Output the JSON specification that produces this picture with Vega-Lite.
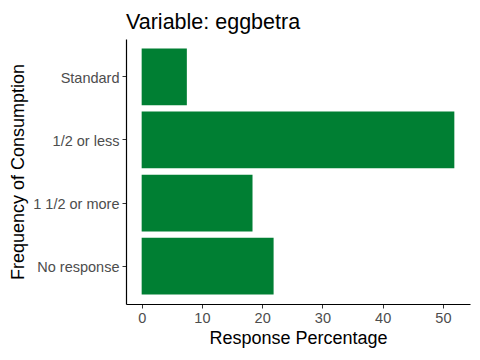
{
  "$schema": "https://vega.github.io/schema/vega-lite/v6.json",
  "autosize": "none",
  "width": 344,
  "height": 265,
  "padding": {"left": 126, "top": 39, "right": 10, "bottom": 56},
  "background": "white",
  "title": {
    "text": "Variable: eggbetra",
    "anchor": "start",
    "frame": "group",
    "font": "Liberation Sans",
    "fontSize": 21.5,
    "fontWeight": "normal",
    "color": "black",
    "baseline": "alphabetic",
    "offset": -11
  },
  "data": {
    "values": [
      {"category": "Standard", "pct": 7.5},
      {"category": "1/2 or less", "pct": 51.9},
      {"category": "1 1/2 or more", "pct": 18.4},
      {"category": "No response", "pct": 21.9}
    ]
  },
  "mark": {"type": "bar", "color": "#007f33"},
  "encoding": {
    "y": {
      "field": "category",
      "type": "nominal",
      "sort": null,
      "scale": {"paddingInner": 0.1, "paddingOuter": 0.15},
      "axis": {
        "title": "Frequency of Consumption",
        "titleFont": "Liberation Sans",
        "titleFontSize": 18,
        "titleFontWeight": "normal",
        "titleColor": "black",
        "titlePadding": 5,
        "labelFont": "Liberation Sans",
        "labelFontSize": 14.5,
        "labelColor": "#4d4d4d",
        "labelPadding": 3,
        "labelBaseline": "middle",
        "labelOffset": 2,
        "tickColor": "#333333",
        "tickSize": 4,
        "domainColor": "black",
        "domainWidth": 1.2,
        "grid": false
      }
    },
    "x": {
      "field": "pct",
      "type": "quantitative",
      "scale": {"domain": [-2.6, 54.5], "nice": false, "zero": false},
      "axis": {
        "title": "Response Percentage",
        "values": [0, 10, 20, 30, 40, 50],
        "titleFont": "Liberation Sans",
        "titleFontSize": 18,
        "titleFontWeight": "normal",
        "titleColor": "black",
        "titlePadding": 5,
        "labelFont": "Liberation Sans",
        "labelFontSize": 14.5,
        "labelColor": "#4d4d4d",
        "labelPadding": 3,
        "tickColor": "#333333",
        "tickSize": 4,
        "domainColor": "black",
        "domainWidth": 1.2,
        "grid": false
      }
    }
  },
  "config": {"view": {"stroke": null}}
}
